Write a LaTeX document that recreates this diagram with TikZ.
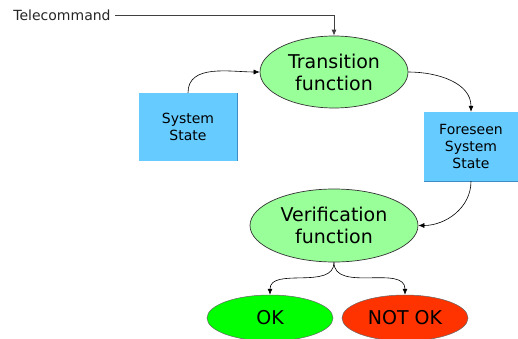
\documentclass[tikz,border=0pt]{standalone}
\usepackage{fontspec}
\setmainfont{DejaVu Sans}
\usetikzlibrary{shapes.geometric,arrows.meta}
\tikzset{>={Latex[length=6pt,width=5pt]}}
\definecolor{funcgreen}{RGB}{153,255,153}
\definecolor{stateblue}{RGB}{102,204,255}
\definecolor{edgeblue}{RGB}{60,140,200}
\definecolor{okgreen}{RGB}{0,255,0}
\definecolor{notokred}{RGB}{255,51,0}
\tikzset{
	func/.style={ellipse, draw=black!80, line width=0.7pt, fill=funcgreen, inner sep=0pt, align=center, font=\fontsize{19}{22}\selectfont},
	statebox/.style={rectangle, fill=stateblue, inner sep=0pt, align=center, font=\fontsize{14}{17}\selectfont},
	result/.style={ellipse, draw=black!60, line width=0.5pt, inner sep=0pt, minimum width=126pt, minimum height=46pt, font=\fontsize{19}{22}\selectfont},
	link/.style={->, line width=0.6pt}
}

\begin{document}
\begin{tikzpicture}[x=1pt,y=-1pt]
	\useasboundingbox (0,0) rectangle (518,339);
	%\draw[help lines] (0,0) grid[step=50] (518,339);
	\node[inner ysep=0pt, inner xsep=4.5pt, font=\fontsize{14}{17}\selectfont, text=black!85] (tc) at (62,15) {Telecommand};
	\node[func, minimum width=148pt, minimum height=72pt] (tf) at (334,72) {Transition\\function};
	\node[statebox, minimum width=98pt, minimum height=68pt] (ss) at (188,127) {System\\State};
	\node[statebox, minimum width=94pt, minimum height=69pt] (fs) at (471,146.5) {Foreseen\\System\\State};
	\node[func, minimum width=168pt, minimum height=73pt] (vf) at (334,225.5) {Verification\\function};
	\node[result, fill=okgreen] (ok) at (270,318) {OK};
	\node[result, fill=notokred] (nok) at (405,318) {NOT OK};
	\draw[edgeblue, line width=0.8pt] (ss.north east) -- (ss.south east);
	\draw[edgeblue, line width=0.8pt] (fs.south west) -- (fs.south east);
	\draw[->, line width=0.8pt, black!75] (tc.east) -| (tf.north);
	\draw[link] (ss.north) to[out=90, in=180] (tf.west);
	\draw[link] (tf.east) to[out=0, in=90] (fs.north);
	\draw[link] (fs.south) to[out=-90, in=0] (vf.east);
	\draw[link] (vf.south) to[out=-90, in=90] (ok.north);
	\draw[link] (vf.south) to[out=-90, in=90] (nok.north);
\end{tikzpicture}
\end{document}
